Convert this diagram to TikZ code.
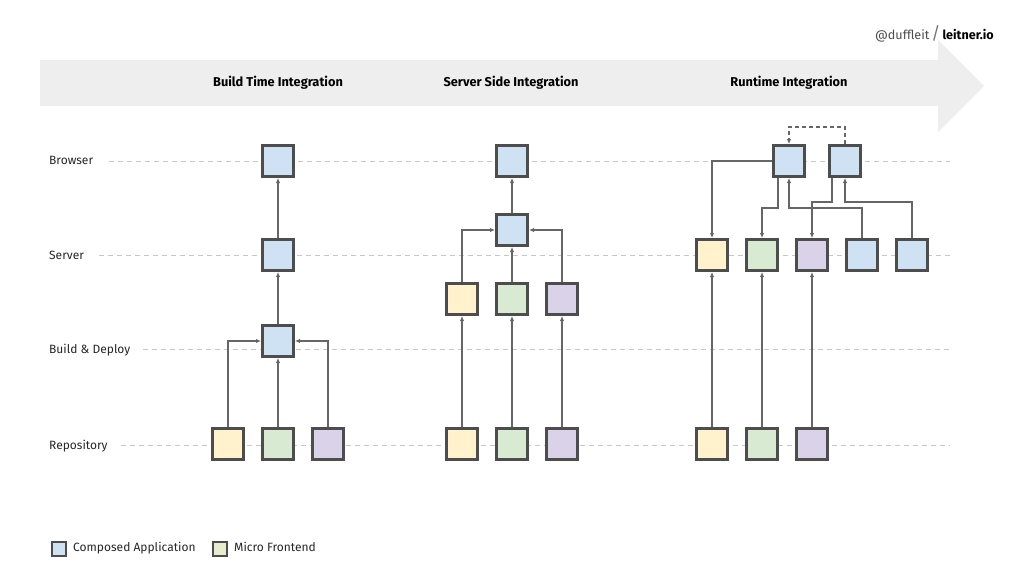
\documentclass[tikz,border=0pt]{standalone}
\usepackage{fontspec}
\setmainfont{Fira Sans}
\usetikzlibrary{arrows.meta, positioning, calc}
\definecolor{boxline}{HTML}{4D4D4D}
\definecolor{wireline}{HTML}{666666}
\definecolor{rowgray}{HTML}{C8C8C8}
\definecolor{bannergray}{HTML}{EEEEEE}
\definecolor{appblue}{HTML}{CFE2F3}
\definecolor{mfyellow}{HTML}{FFF2CC}
\definecolor{mfgreen}{HTML}{D9EAD3}
\definecolor{mfpurple}{HTML}{D9D2E9}
\tikzset{mod/.style={draw=boxline, line width=2.6pt, minimum size=31.4pt, inner sep=0pt}}
\tikzset{legendbox/.style={draw=boxline, line width=2.2pt, minimum size=13.8pt, inner sep=0pt}}
\tikzset{edge/.style={color=wireline, line width=1.3pt, -{Latex[length=5pt,width=4.5pt]}}}
\tikzset{rowline/.style={color=rowgray, line width=1pt, dash pattern=on 5pt off 4pt}}
\tikzset{rowlabel/.style={anchor=west, inner sep=0pt, font=\fontsize{12}{14}\selectfont, text=black!85}}
\tikzset{legendlabel/.style={rowlabel, text height=1.6ex, text depth=0.5ex}}

\begin{document}
\begin{tikzpicture}[x=1pt, y=-1pt]
        \useasboundingbox (0,0) rectangle (1024,576);

        % timeline banner
        \fill[bannergray] (40,60) -- (938,60) -- (938,40) -- (984,86) -- (938,132)
        -- (938,106) -- (40,106) -- cycle;
        \node[font=\bfseries\fontsize{12.8}{15}\selectfont] (Hbuild) at (278, 83) {Build Time Integration};
        \node[font=\bfseries\fontsize{12.8}{15}\selectfont] (Hserver) at (511, 83) {Server Side Integration};
        \node[font=\bfseries\fontsize{12.8}{15}\selectfont] (Hrun) at (789, 83) {Runtime Integration};

        \node[anchor=east, inner sep=0pt, font=\fontsize{12.6}{15}\selectfont] (Handle) at (994, 34)
        {{\color{black!70}@duffleit}\,{\color{black!55}\LARGE/}\,\textbf{leitner.io}};

        % rows
        \node[rowlabel] (Lbrowser) at (49, 160) {Browser};
        \node[rowlabel] (Lserver) at (49, 255) {Server};
        \node[rowlabel] (Lbuild) at (49, 350) {Build \& Deploy};
        \node[rowlabel] (Lrepo) at (49, 446) {Repository};
        \coordinate (Ebrowser) at (950, 161);
        \coordinate (Eserver) at (950, 255);
        \coordinate (Ebuild) at (950, 349);
        \coordinate (Erepo) at (950, 445);
        \draw [rowline] ([xshift=16pt]Lbrowser.east |- Ebrowser) -- (Ebrowser);
        \draw [rowline] ([xshift=15pt]Lserver.east |- Eserver) -- (Eserver);
        \draw [rowline] ([xshift=12pt]Lbuild.east |- Ebuild) -- (Ebuild);
        \draw [rowline] ([xshift=13pt]Lrepo.east |- Erepo) -- (Erepo);

        % build time integration
        \node[mod, fill=appblue] (Ba) at (278, 161) {};
        \node[mod, fill=appblue] (Bb) at (278, 255) {};
        \node[mod, fill=appblue] (Bc) at (278, 341) {};
        \node[mod, fill=mfyellow] (Bd) at (228, 444) {};
        \node[mod, fill=mfgreen] (Be) at (278, 444) {};
        \node[mod, fill=mfpurple] (Bf) at (328, 444) {};

        \draw [edge] (Bb) -- (Ba);
        \draw [edge] (Bc) -- (Bb);
        \draw [edge] (Be) -- (Bc);
        \draw [edge] (Bd.north) |- (Bc.west);
        \draw [edge] (Bf.north) |- (Bc.east);

        % server side integration
        \node[mod, fill=appblue] (S1) at (512, 161) {};
        \node[mod, fill=appblue] (S2) at (512, 230) {};
        \node[mod, fill=mfyellow] (S3) at (462, 299) {};
        \node[mod, fill=mfgreen] (S4) at (512, 299) {};
        \node[mod, fill=mfpurple] (S5) at (562, 299) {};
        \node[mod, fill=mfyellow] (S6) at (462, 444) {};
        \node[mod, fill=mfgreen] (S7) at (512, 444) {};
        \node[mod, fill=mfpurple] (S8) at (562, 444) {};

        \draw [edge] (S2) -- (S1);
        \draw [edge] (S4) -- (S2);
        \draw [edge] (S3.north) |- (S2.west);
        \draw [edge] (S5.north) |- (S2.east);
        \draw [edge] (S6) -- (S3);
        \draw [edge] (S7) -- (S4);
        \draw [edge] (S8) -- (S5);

        % runtime integration
        \node[mod, fill=appblue] (R1) at (789, 161) {};
        \node[mod, fill=appblue] (R2) at (845, 161) {};
        \node[mod, fill=mfyellow] (R3) at (712, 255) {};
        \node[mod, fill=mfgreen] (R4) at (762, 255) {};
        \node[mod, fill=mfpurple] (R5) at (812, 255) {};
        \node[mod, fill=appblue] (R6) at (862, 255) {};
        \node[mod, fill=appblue] (R7) at (912, 255) {};
        \node[mod, fill=mfyellow] (R8) at (712, 444) {};
        \node[mod, fill=mfgreen] (R9) at (762, 444) {};
        \node[mod, fill=mfpurple] (R10) at (812, 444) {};

        \draw [edge, dash pattern=on 4pt off 3pt] (R2.north) -- ++(0,-17) -| (R1.north);
        \draw [edge] (R1.west) -| (R3.north);
        \draw [edge] ([xshift=-11pt]R1.south) -- ++(0,30) -| (R4.north);
        \draw [edge] ([xshift=-13pt]R2.south) -- ++(0,24) -| (R5.north);
        \draw [edge] (R6.north) -- ++(0,-30) -| (R1.south);
        \draw [edge] (R7.north) -- ++(0,-36) -| (R2.south);
        \draw [edge] (R8) -- (R3);
        \draw [edge] (R9) -- (R4);
        \draw [edge] (R10) -- (R5);

        % legend
        \node[legendbox, fill=appblue] (Kapp) at (59, 549) {};
        \node[legendlabel, right=6pt of Kapp] (Tapp) {Composed Application};
        \node[legendbox, fill=mfgreen!60!mfyellow] (Kmf) at (220, 549) {};
        \node[legendlabel, right=6pt of Kmf] (Tmf) {Micro Frontend};
\end{tikzpicture}
\end{document}
